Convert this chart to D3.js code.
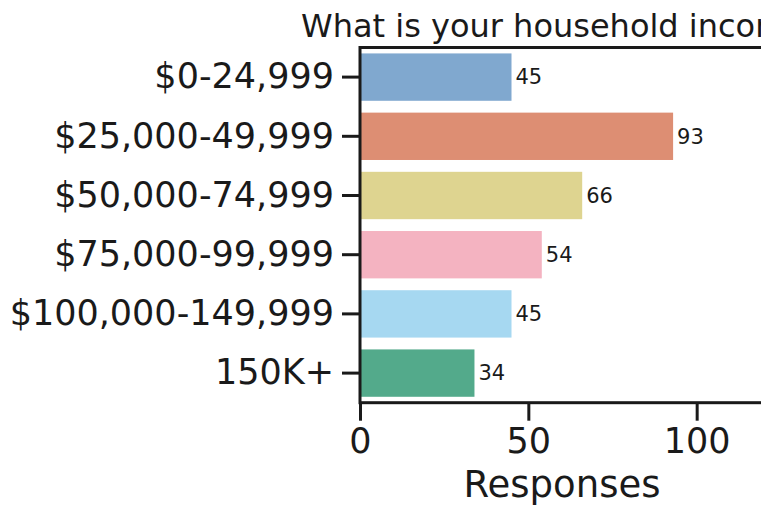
<!DOCTYPE html>
<html>
<head>
<meta charset="utf-8">
<script src="https://cdn.jsdelivr.net/npm/d3@7"></script>
<style>
  html, body { margin: 0; padding: 0; background: #fff; }
  svg { display: block; font-family: "DejaVu Sans", sans-serif; }
</style>
</head>
<body>
<svg id="chart" width="761" height="506"></svg>
<script>
const categories = ["$0-24,999", "$25,000-49,999", "$50,000-74,999", "$75,000-99,999", "$100,000-149,999", "150K+"];
const values = [45, 93, 66, 54, 45, 34];
const colors = ["#80a8cf", "#dd8e73", "#ded490", "#f4b3c1", "#a6d8f1", "#53aa8b"];
const xTicks = [0, 50, 100];
const title = "What is your household income?";
const xLabel = "Responses";

const svg = d3.select("#chart");
const mLeft = 360, mRight = 764, mTop = 47.5, mBottom = 402.7;

const x = d3.scaleLinear().domain([0, 120]).range([mLeft, mRight]);
const y = d3.scaleBand().domain(categories).range([mTop, mBottom]).paddingInner(0.2).paddingOuter(0.1);

// bars
svg.append("g").selectAll("rect").data(categories).join("rect")
  .attr("x", x(0))
  .attr("y", d => y(d))
  .attr("width", (d, i) => x(values[i]) - x(0))
  .attr("height", y.bandwidth())
  .attr("fill", (d, i) => colors[i]);

// value labels
svg.append("g").selectAll("text").data(categories).join("text")
  .attr("x", (d, i) => x(values[i]) + 4)
  .attr("y", d => y(d) + y.bandwidth() / 2)
  .attr("dy", "0.35em")
  .attr("font-size", 21)
  .attr("fill", "#1a1a1a")
  .text((d, i) => values[i]);

// axes
const xAxis = svg.append("g").attr("transform", `translate(0,${mBottom})`)
  .call(d3.axisBottom(x).tickValues(xTicks).tickSize(18).tickPadding(7).tickFormat(d3.format("d")));
const yAxis = svg.append("g").attr("transform", `translate(${mLeft},0)`)
  .call(d3.axisLeft(y).tickSize(18).tickPadding(8));

[xAxis, yAxis].forEach(ax => {
  ax.select(".domain").remove();
  ax.selectAll(".tick line").attr("stroke", "#1a1a1a").attr("stroke-width", 3);
  ax.selectAll(".tick text").attr("font-size", 35).attr("fill", "#1a1a1a").attr("font-family", "DejaVu Sans");
});

// spines
const spine = svg.append("g").attr("stroke", "#1a1a1a").attr("stroke-width", 3).attr("fill", "none");
spine.append("rect").attr("x", mLeft).attr("y", mTop).attr("width", mRight - mLeft).attr("height", mBottom - mTop);

// title
svg.append("text")
  .attr("x", (mLeft + mRight) / 2)
  .attr("y", 37)
  .attr("text-anchor", "middle")
  .attr("font-size", 32)
  .attr("fill", "#1a1a1a")
  .text(title);

// x label
svg.append("text")
  .attr("x", (mLeft + mRight) / 2)
  .attr("y", 497)
  .attr("text-anchor", "middle")
  .attr("font-size", 37)
  .attr("fill", "#1a1a1a")
  .text(xLabel);
</script>
</body>
</html>
